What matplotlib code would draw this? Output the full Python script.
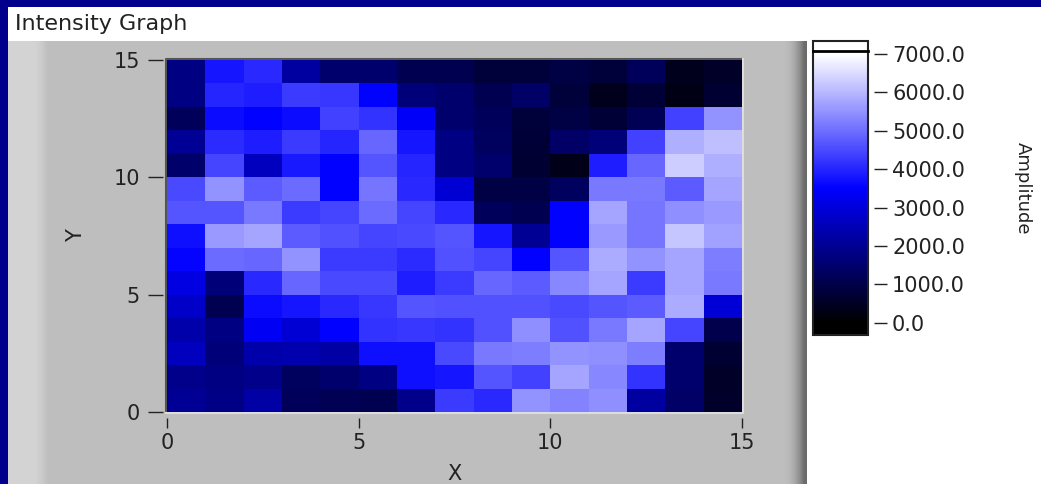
import numpy as np
import matplotlib
matplotlib.use("Agg")
import matplotlib.pyplot as plt
from matplotlib.colors import LinearSegmentedColormap
from matplotlib.patches import Rectangle

W, H = 1041, 484

# amplitude per cell, top row (y=14) first
row14 = [1800, 3800, 4050, 2200, 1500, 1500, 1100, 1100, 800, 800, 950, 800, 1250, 400, 550]
row13 = [1800, 4000, 3900, 4300, 4250, 3500, 1650, 1500, 1100, 1400, 800, 400, 750, 300, 700]
row12 = [1250, 3650, 3500, 3650, 4400, 4200, 3400, 1500, 1250, 800, 950, 750, 1150, 4400, 5500]
row11 = [2050, 4100, 3900, 4300, 4000, 4900, 3800, 1800, 1300, 750, 1400, 1650, 4400, 5900, 6100]
row10 = [1450, 4450, 2600, 3850, 3500, 4650, 4000, 1800, 1500, 700, 350, 3900, 4900, 6300, 5900]
row9 = [4500, 5500, 4750, 4950, 3500, 5100, 4050, 2900, 950, 950, 1300, 5150, 5150, 4750, 5750]
row8 = [4650, 4650, 5150, 4300, 4450, 4950, 4450, 4050, 1250, 1100, 3500, 5750, 5100, 5450, 5600]
row7 = [3700, 5600, 5750, 4750, 4600, 4450, 4500, 4650, 3800, 2050, 3500, 5600, 5100, 6200, 5700]
row6 = [3550, 4950, 4900, 5500, 4300, 4300, 4100, 4600, 4450, 3500, 4650, 5850, 5500, 5750, 5200]
row5 = [3100, 1650, 4050, 4900, 4500, 4500, 3900, 4300, 4900, 4750, 5350, 5750, 4300, 5750, 5150]
row4 = [2750, 1100, 3650, 3800, 4050, 4250, 4650, 4600, 4600, 4600, 4500, 4650, 4750, 5850, 2950]
row3 = [2350, 1800, 3350, 2900, 3500, 4200, 4250, 4200, 4600, 5450, 4600, 5150, 5750, 4450, 1050]
row2 = [2600, 1650, 2350, 2400, 2250, 3700, 3700, 4500, 5150, 5200, 5500, 5450, 5200, 1500, 700]
row1 = [1900, 1800, 1900, 1300, 1500, 1800, 3700, 3800, 4650, 4400, 5750, 5350, 4200, 1500, 550]
row0 = [2050, 1850, 2250, 1250, 1150, 1100, 1900, 4300, 4050, 5500, 5300, 5450, 2200, 1400, 600]

rows = [row0, row1, row2, row3, row4, row5, row6, row7, row8, row9,
        row10, row11, row12, row13, row14]
xy_ticks = [0, 5, 10, 15]
amp_ticks = [0, 1000, 2000, 3000, 4000, 5000, 6000, 7000]

NAVY = "#00008c"
GREY = "#bebebe"
TXT = "#222222"
FS = 15


def px_box(left, top, right, bottom):
    return [left / W, 1 - bottom / H, (right - left) / W, (bottom - top) / H]


plt.rcParams["font.family"] = "DejaVu Sans"
fig = plt.figure(figsize=(W / 100, H / 100), dpi=100, facecolor="white")

# window furniture in pixel coordinates
bg = fig.add_axes([0, 0, 1, 1], zorder=-1)
bg.set_axis_off()
left_shade = np.array([[0.83, 0.83, 0.83, 0.83, 0.80, 0.745, 0.745, 0.745]])
bg.imshow(left_shade, cmap="gray", vmin=0, vmax=1, aspect="auto", extent=(8, 66, 484, 41),
          interpolation="bilinear")
bg.add_patch(Rectangle((66, 41), 716, 443, fc=GREY, ec="none"))
edge = np.array([[0.745, 0.72, 0.66, 0.56, 0.42]])
bg.imshow(edge, cmap="gray", vmin=0, vmax=1, aspect="auto", extent=(782, 807, 484, 41),
          interpolation="bilinear")
bg.add_patch(Rectangle((0, 0), W, 7, fc=NAVY, ec="none"))
bg.add_patch(Rectangle((0, 0), 8, H, fc=NAVY, ec="none"))
# sunken frame round the plot area
bg.plot([166, 166, 743], [413, 59, 59], color="#555555", lw=1.5)
bg.plot([166, 743, 743], [413, 413, 59], color="#dddddd", lw=1.5)
bg.set_xlim(0, W)
bg.set_ylim(H, 0)
bg.text(15, 24, "Intensity Graph", fontsize=16, color=TXT, va="center", ha="left")

cmap = LinearSegmentedColormap.from_list("lv", ["#000000", "#0000ff", "#ffffff"])
cmap.set_under("#000000")
cmap.set_over("#ffffff")

ax = fig.add_axes(px_box(167, 60, 742, 412))
mesh = ax.pcolormesh(np.arange(16), np.arange(16), np.array(rows), cmap=cmap,
                     vmin=0, vmax=7000)
ax.set_xlim(0, 15)
ax.set_ylim(0, 15)
ax.set_xticks(xy_ticks)
ax.set_yticks(xy_ticks)
# ticks stand off the image, as in the original
ax.spines["left"].set_position(("outward", 2.9))
ax.spines["bottom"].set_position(("outward", 4.3))
for side in ax.spines:
    ax.spines[side].set_visible(False)
ax.tick_params(axis="x", length=7.2, width=1, color=TXT, labelsize=FS, labelcolor=TXT, pad=3.6)
ax.tick_params(axis="y", length=10.8, width=1, color=TXT, labelsize=FS, labelcolor=TXT, pad=5.8)
ax.set_xlabel("X", fontsize=FS, color=TXT, labelpad=8)
ax.set_ylabel("Y", fontsize=FS, color=TXT, labelpad=20)

# colour ramp with the out-of-range caps above and below
cax = fig.add_axes(px_box(813, 41, 868, 335))
cb = fig.colorbar(mesh, cax=cax, extend="both", extendrect=True, extendfrac=[0.045, 0.048])
cb.set_ticks(amp_ticks)
cb.set_ticklabels([f"{t:.1f}" for t in amp_ticks])
cb.outline.set_edgecolor("#222222")
cb.outline.set_linewidth(1.5)
cax.spines["right"].set_position(("outward", 4.3))
cax.tick_params(axis="y", length=9.4, width=1, color=TXT, labelsize=FS, labelcolor=TXT, pad=3.6)
cb.set_label("Amplitude", rotation=270, fontsize=13, color=TXT, labelpad=48)

fig.add_artist(plt.Line2D([813 / W, 868 / W], [1 - 50.5 / H, 1 - 50.5 / H], color="#000000", lw=2))

fig.savefig("out.png", dpi=100, facecolor=fig.get_facecolor())
